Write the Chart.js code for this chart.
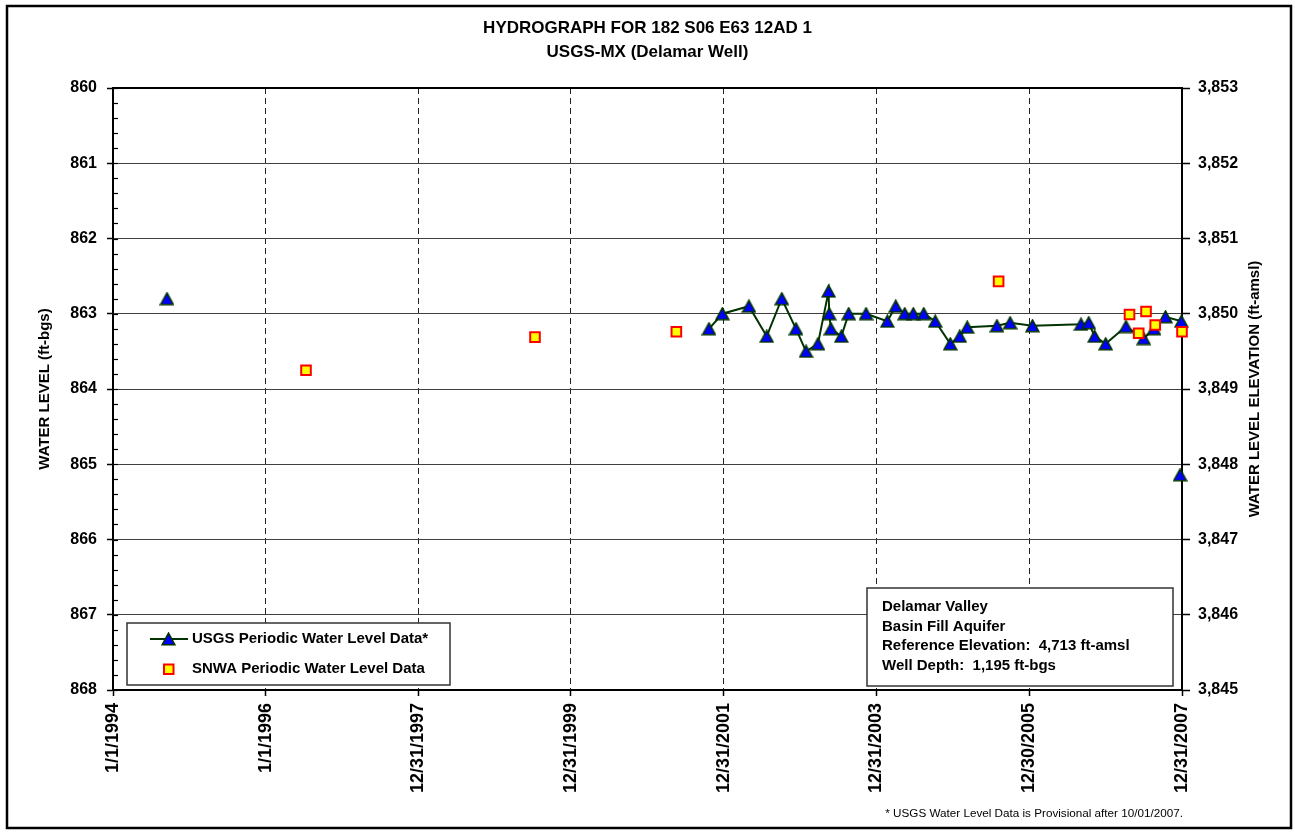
<!DOCTYPE html>
<html>
<head>
<meta charset="utf-8">
<script src="https://cdn.jsdelivr.net/npm/chart.js@4.4.1/dist/chart.umd.min.js"></script>
<style>
html,body{margin:0;padding:0;background:#fff;}
#wrap{position:relative;width:1295px;height:834px;}
</style>
</head>
<body>
<div id="wrap"><canvas id="c" width="1295" height="834"></canvas></div>
<script>
// ---------------- DATA ----------------
const titleLines = ['HYDROGRAPH FOR 182 S06 E63 12AD 1', 'USGS-MX (Delamar Well)'];
const xTickLabels = ['1/1/1994', '1/1/1996', '12/31/1997', '12/31/1999', '12/31/2001', '12/31/2003', '12/30/2005', '12/31/2007'];
const leftAxisTitle = 'WATER LEVEL (ft-bgs)';
const rightAxisTitle = 'WATER LEVEL ELEVATION (ft-amsl)';
const referenceElevation = 4713;
const depthMin = 860, depthMax = 868;

const usgsLabel = 'USGS Periodic Water Level Data*';
const usgsDates = ['1994-09-16', '1998-01-01',
  '2001-10-21', '2001-12-24', '2002-04-30', '2002-07-24', '2002-10-04', '2002-12-11',
  '2003-01-28', '2003-03-26', '2003-05-16', '2003-05-19', '2003-05-27', '2003-07-16',
  '2003-08-20', '2003-11-11', '2004-02-21', '2004-04-01', '2004-05-14', '2004-06-24',
  '2004-08-13', '2004-10-07', '2004-12-18', '2005-02-01', '2005-03-09', '2005-07-29',
  '2005-09-30', '2006-01-15', '2006-09-04', '2006-10-11', '2006-11-08', '2006-12-31',
  '2007-04-07', '2007-07-01', '2007-08-19', '2007-10-13', '2007-12-28', '2007-12-29',
  '2007-12-22'];
const usgsLevels = [862.80, null,
  863.20, 863.00, 862.90, 863.30, 862.80, 863.20,
  863.50, 863.40, 862.70, 863.00, 863.20, 863.30,
  863.00, 863.00, 863.10, 862.90, 863.00, 863.00,
  863.00, 863.10, 863.40, 863.30, 863.18, 863.16,
  863.12, 863.16, 863.14, 863.12, 863.30, 863.40,
  863.17, 863.33, 863.20, 863.04, 863.10, null,
  865.14];

const snwaLabel = 'SNWA Periodic Water Level Data';
const snwaDates = ['1996-07-12', '1999-07-12', '2001-05-18', '2005-08-06', '2007-04-24',
  '2007-06-07', '2007-07-12', '2007-08-25', '2007-12-31'];
const snwaLevels = [863.75, 863.31, 863.24, 862.57, 863.01, 863.26, 862.97, 863.15, 863.24];

const infoLines = ['Delamar Valley', 'Basin Fill Aquifer', 'Reference Elevation:  4,713 ft-amsl', 'Well Depth:  1,195 ft-bgs'];
const footnote = '* USGS Water Level Data is Provisional after 10/01/2007.';

// ---------------- HELPERS ----------------
const FONT = '"Liberation Sans", Arial, Helvetica, sans-serif';
const EPOCH = Date.UTC(1994, 0, 1);
function dayNum(s) {
  let y, m, d;
  if (s.indexOf('/') >= 0) { const p = s.split('/'); m = +p[0]; d = +p[1]; y = +p[2]; }
  else { const p = s.split('-'); y = +p[0]; m = +p[1]; d = +p[2]; }
  return Math.round((Date.UTC(y, m - 1, d) - EPOCH) / 86400000);
}

// triangle marker glyph
function makeTriangle() {
  const c = document.createElement('canvas');
  c.width = 15; c.height = 14;
  const g = c.getContext('2d');
  g.beginPath();
  g.moveTo(7.5, 1.2); g.lineTo(13.9, 12.8); g.lineTo(1.1, 12.8); g.closePath();
  g.fillStyle = '#0000FF'; g.fill();
  g.lineWidth = 1.6; g.strokeStyle = '#003300'; g.lineJoin = 'miter'; g.stroke();
  return c;
}
const triImg = makeTriangle();

const usgsData = usgsDates.map((d, i) => ({ x: dayNum(d), y: usgsLevels[i] }));
const snwaData = snwaDates.map((d, i) => ({ x: dayNum(d), y: snwaLevels[i] }));

// ---------------- DECOR PLUGIN ----------------
const decor = {
  id: 'decor',
  beforeDraw(chart) {
    const ctx = chart.ctx;
    ctx.save();
    ctx.fillStyle = '#fff';
    ctx.fillRect(0, 0, chart.width, chart.height);
    ctx.restore();
  },
  afterDraw(chart) {
    const ctx = chart.ctx;
    const ca = chart.chartArea;
    const ys = chart.scales.y;
    ctx.save();
    // top border of plot area
    ctx.strokeStyle = '#000'; ctx.lineWidth = 2;
    ctx.beginPath(); ctx.moveTo(ca.left - 1, ca.top); ctx.lineTo(ca.right + 1, ca.top); ctx.stroke();
    // minor ticks inside left axis
    ctx.lineWidth = 1.2;
    for (let v = depthMin; v <= depthMax + 1e-9; v += 0.2) {
      const yy = Math.round(ys.getPixelForValue(v)) + 0.5;
      ctx.beginPath(); ctx.moveTo(ca.left, yy); ctx.lineTo(ca.left + 5, yy); ctx.stroke();
    }
    // outer frame
    ctx.lineWidth = 2.5;
    ctx.strokeRect(7, 6, 1284, 822);

    // titles
    ctx.fillStyle = '#000';
    ctx.textAlign = 'center'; ctx.textBaseline = 'middle';
    ctx.font = 'bold 17px ' + FONT;
    ctx.fillText(titleLines[0], 647.5, 28);
    ctx.fillText(titleLines[1], 647.5, 52);

    // axis titles
    ctx.font = 'bold 15px ' + FONT;
    ctx.save(); ctx.translate(45, (ca.top + ca.bottom) / 2); ctx.rotate(-Math.PI / 2);
    ctx.fillText(leftAxisTitle, 0, 0); ctx.restore();
    ctx.save(); ctx.translate(1255, (ca.top + ca.bottom) / 2); ctx.rotate(-Math.PI / 2);
    ctx.fillText(rightAxisTitle, 0, 0); ctx.restore();

    // legend box
    ctx.fillStyle = '#fff';
    ctx.fillRect(127, 623, 323, 62);
    ctx.strokeStyle = '#333'; ctx.lineWidth = 1.5;
    ctx.strokeRect(127, 623, 323, 62);
    ctx.strokeStyle = '#003300'; ctx.lineWidth = 2;
    ctx.beginPath(); ctx.moveTo(150, 639); ctx.lineTo(188, 639); ctx.stroke();
    ctx.drawImage(triImg, 168.5 - triImg.width / 2, 639 - triImg.height / 2);
    ctx.fillStyle = '#FFFF00'; ctx.fillRect(164, 664.5, 9.5, 9.5);
    ctx.strokeStyle = '#FF0000'; ctx.lineWidth = 2; ctx.strokeRect(164, 664.5, 9.5, 9.5);
    ctx.fillStyle = '#000'; ctx.textAlign = 'left'; ctx.textBaseline = 'middle';
    ctx.font = 'bold 15px ' + FONT;
    ctx.fillText(usgsLabel, 192, 639);
    ctx.fillText(snwaLabel, 192, 669);

    // info box
    ctx.fillStyle = '#fff';
    ctx.fillRect(867, 588, 306, 98);
    ctx.strokeStyle = '#333'; ctx.lineWidth = 1.5;
    ctx.strokeRect(867, 588, 306, 98);
    ctx.fillStyle = '#000';
    const rows = [607, 626.5, 646, 665.5];
    infoLines.forEach((t, i) => ctx.fillText(t, 882, rows[i]));

    // footnote
    ctx.font = '11.7px ' + FONT;
    ctx.textAlign = 'right';
    ctx.fillText(footnote, 1183, 814);
    ctx.restore();
  }
};

const tickFont = { family: FONT, size: 16, weight: 'bold' };

new Chart(document.getElementById('c'), {
  type: 'line',
  data: {
    datasets: [
      {
        label: usgsLabel,
        data: usgsData,
        xAxisID: 'x', yAxisID: 'y',
        showLine: true, spanGaps: false,
        borderColor: '#003300', borderWidth: 2, tension: 0,
        pointStyle: triImg, pointRadius: 7,
        clip: false, order: 2
      },
      {
        label: snwaLabel,
        data: snwaData,
        xAxisID: 'x', yAxisID: 'y',
        showLine: false,
        pointStyle: 'rect', pointRadius: 6.8,
        pointBackgroundColor: '#FFFF00', pointBorderColor: '#FF0000', pointBorderWidth: 2,
        clip: false, order: 1
      }
    ]
  },
  options: {
    responsive: false,
    animation: false,
    devicePixelRatio: 1,
    layout: { padding: { top: 88, left: 0, right: 0, bottom: 0 } },
    plugins: { legend: { display: false }, title: { display: false }, tooltip: { enabled: false } },
    scales: {
      x: {
        type: 'linear', position: 'bottom',
        min: dayNum(xTickLabels[0]), max: dayNum(xTickLabels[xTickLabels.length - 1]),
        afterBuildTicks: s => { s.ticks = xTickLabels.map(l => ({ value: dayNum(l) })); },
        afterFit: s => { s.height = 144; },
        ticks: {
          autoSkip: false, maxRotation: 90, minRotation: 90, padding: 7, color: '#000',
          font: { family: FONT, size: 18, weight: 'bold' },
          callback: (v, i) => xTickLabels[i]
        },
        grid: { color: '#222', lineWidth: 1, drawTicks: true, tickLength: 6, tickColor: '#000', tickWidth: 1.5 },
        border: { display: true, color: '#000', width: 2, dash: [6, 4] }
      },
      y: {
        type: 'linear', position: 'left', reverse: true,
        min: depthMin, max: depthMax,
        ticks: { stepSize: 1, padding: 10, color: '#000', font: tickFont, callback: v => String(v) },
        afterFit: s => { s.width = 113; },
        grid: { color: '#404040', lineWidth: 1, drawTicks: true, tickLength: 6, tickColor: '#000', tickWidth: 1.5 },
        border: { display: true, color: '#000', width: 2 }
      },
      y2: {
        type: 'linear', position: 'right',
        min: referenceElevation - depthMax, max: referenceElevation - depthMin,
        ticks: { stepSize: 1, padding: 8, color: '#000', font: tickFont, callback: v => v.toLocaleString('en-US') },
        afterFit: s => { s.width = 113; },
        grid: { drawOnChartArea: false, drawTicks: true, tickLength: 8, tickColor: '#000', tickWidth: 1.5 },
        border: { display: true, color: '#000', width: 2 }
      }
    }
  },
  plugins: [decor]
});
</script>
</body>
</html>
